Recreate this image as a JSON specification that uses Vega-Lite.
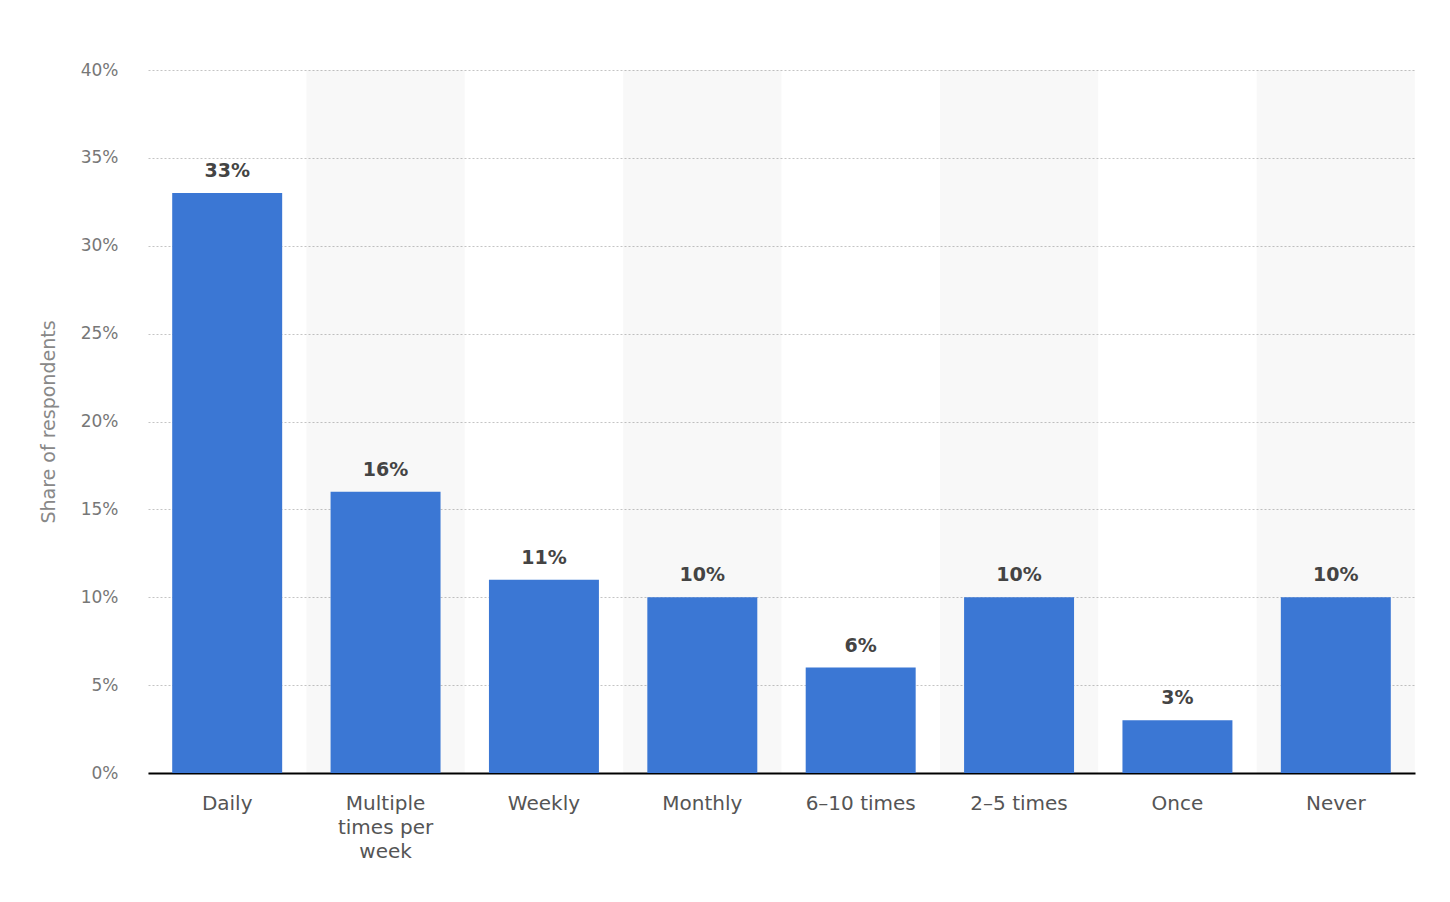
{
  "$schema": "https://vega.github.io/schema/vega-lite/v6.json",
  "width": 1267,
  "height": 703,
  "autosize": {"type": "none"},
  "padding": {"left": 148, "top": 70, "right": 35, "bottom": 129},
  "background": "white",
  "data": {
    "values": [
      {"cat": "Daily", "share": 0.33},
      {"cat": "Multiple times per week", "share": 0.16},
      {"cat": "Weekly", "share": 0.11},
      {"cat": "Monthly", "share": 0.10},
      {"cat": "6-10 times", "share": 0.06},
      {"cat": "2-5 times", "share": 0.10},
      {"cat": "Once", "share": 0.03},
      {"cat": "Never", "share": 0.10}
    ]
  },
  "config": {
    "view": {"stroke": null},
    "font": "DejaVu Sans"
  },
  "encoding": {
    "x": {
      "field": "cat",
      "type": "nominal",
      "sort": ["Daily", "Multiple times per week", "Weekly", "Monthly", "6-10 times", "2-5 times", "Once", "Never"],
      "scale": {"paddingInner": 0.3056, "paddingOuter": 0.1528},
      "axis": {
        "title": null,
        "labelAngle": 0,
        "labelFont": "DejaVu Sans",
        "labelFontSize": 20,
        "labelColor": "#555555",
        "labelPadding": 20,
        "labelLineHeight": 24,
        "labelBaseline": "top",
        "ticks": false,
        "domainColor": "#000000",
        "domainWidth": 2,
        "grid": false,
        "labelExpr": "datum.label == 'Multiple times per week' ? ['Multiple', 'times per', 'week'] : replace(datum.label, '-', '–')"
      }
    }
  },
  "layer": [
    {
      "mark": {"type": "bar", "width": {"band": 1.44}, "color": "#000000", "opacity": 0.028},
      "transform": [
        {"filter": "indexof(['Multiple times per week', 'Monthly', '2-5 times', 'Never'], datum.cat) >= 0"}
      ],
      "encoding": {
        "y": {"datum": 0.4, "type": "quantitative"},
        "y2": {"datum": 0}
      }
    },
    {
      "mark": {"type": "bar", "color": "#3b77d4"},
      "encoding": {
        "y": {
          "field": "share",
          "type": "quantitative",
          "scale": {"domain": [0, 0.4], "nice": false},
          "axis": {
            "title": "Share of respondents",
            "titleFont": "DejaVu Sans",
            "titleFontSize": 19,
            "titleFontWeight": "normal",
            "titleColor": "#888888",
            "titlePadding": 22,
            "format": ".0%",
            "values": [0, 0.05, 0.1, 0.15, 0.2, 0.25, 0.3, 0.35, 0.4],
            "labelFont": "DejaVu Sans",
            "labelFontSize": 17,
            "labelColor": "#777777",
            "labelPadding": 30,
            "ticks": false,
            "domain": false,
            "grid": true,
            "gridColor": "#c4c4c4",
            "gridDash": [2, 2],
            "gridWidth": 1
          }
        }
      }
    },
    {
      "mark": {"type": "text", "baseline": "bottom", "dy": -12, "fontWeight": "bold", "fontSize": 19, "color": "#444444", "font": "DejaVu Sans"},
      "encoding": {
        "y": {"field": "share", "type": "quantitative"},
        "text": {"field": "share", "type": "quantitative", "format": ".0%"}
      }
    }
  ]
}
